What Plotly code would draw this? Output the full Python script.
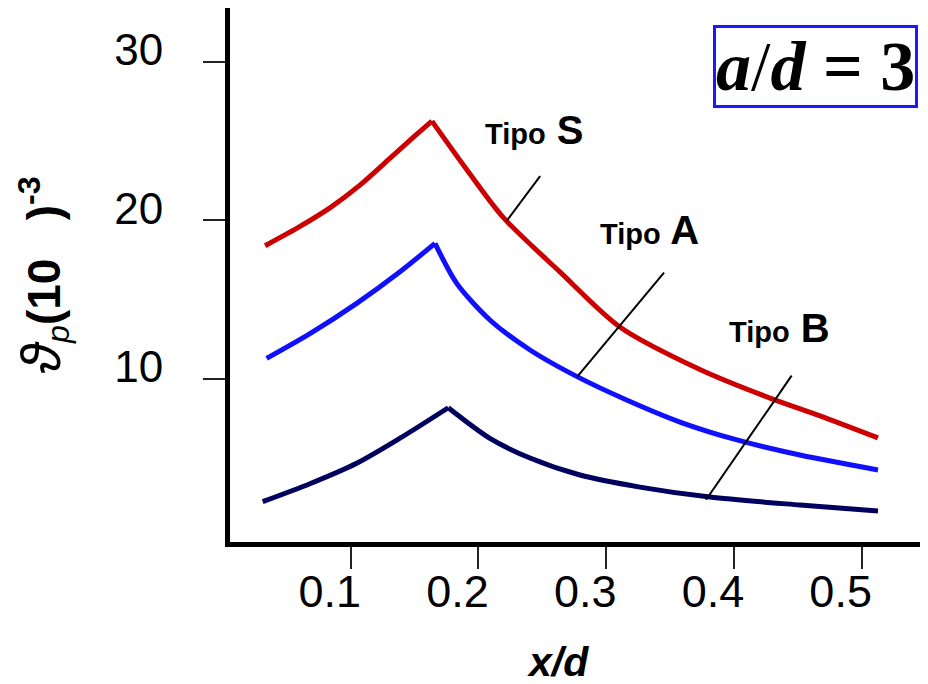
import plotly.graph_objects as go

# ---- data ----
x_s = [0.033, 0.060, 0.084, 0.107, 0.130, 0.150, 0.1636, 0.1908, 0.2192, 0.2638, 0.3107, 0.3734, 0.4282, 0.4674, 0.5128]
y_s = [18.4, 19.6, 20.8, 22.2, 23.85, 25.3, 26.25, 23.2, 20.2, 16.75, 13.28, 10.6, 8.8, 7.68, 6.29]

x_a = [0.0342, 0.0681, 0.1047, 0.1386, 0.166, 0.183, 0.209, 0.2404, 0.278, 0.316, 0.3578, 0.4024, 0.4517, 0.5128]
y_a = [11.30, 12.86, 14.77, 16.76, 18.55, 16.03, 13.72, 11.83, 10.12, 8.68, 7.29, 6.16, 5.21, 4.27]

x_b = [0.0311, 0.0681, 0.1047, 0.1386, 0.1764, 0.209, 0.2404, 0.2795, 0.3264, 0.3812, 0.4517, 0.5128]
y_b = [2.27, 3.40, 4.69, 6.27, 8.19, 6.26, 5.02, 3.95, 3.19, 2.56, 2.06, 1.68]

# leader lines (from curve to label)
lead_s_x = [0.2222, 0.2483]
lead_s_y = [19.97, 22.79]
lead_a_x = [0.2774, 0.3453]
lead_a_y = [10.15, 16.70]
lead_b_x = [0.3782, 0.4452]
lead_b_y = [2.39, 10.21]

label_names = ["S", "A", "B"]
label_x = [0.2435, 0.3343, 0.4354]
label_y = [25.7, 19.4, 13.2]

x_ticks = [0.1, 0.2, 0.3, 0.4, 0.5]
x_tick_text = ["0.1", "0.2", "0.3", "0.4", "0.5"]
y_ticks = [10, 20, 30]
y_tick_text = ["10", "20", "30"]

fig = go.Figure()
for xs, ys, col in [(x_s, y_s, "#cc0000"), (x_a, y_a, "#1010ff"), (x_b, y_b, "#00005e")]:
    k = ys.index(max(ys))
    for part_x, part_y in [(xs[:k + 1], ys[:k + 1]), (xs[k:], ys[k:])]:
        fig.add_trace(go.Scatter(x=part_x, y=part_y, mode="lines",
                                 line=dict(color=col, width=5, shape="spline", smoothing=0.8),
                                 showlegend=False, hoverinfo="skip"))
for xs, ys in [(lead_s_x, lead_s_y), (lead_a_x, lead_a_y), (lead_b_x, lead_b_y)]:
    fig.add_trace(go.Scatter(x=xs, y=ys, mode="lines",
                             line=dict(color="black", width=2), showlegend=False,
                             hoverinfo="skip"))

for name, lx, ly in zip(label_names, label_x, label_y):
    fig.add_annotation(x=lx, y=ly, xref="x", yref="y", showarrow=False,
                       xanchor="center", yanchor="middle",
                       text=f"<b><span style='font-size:29px'>Tipo</span> {name}</b>",
                       font=dict(family="Liberation Sans, Arial", size=40, color="black"))

fig.add_annotation(x=0.830, y=0.8904, xref="paper", yref="paper", showarrow=False,
                   xanchor="center", yanchor="middle",
                   text="<b><i>a</i></b>/<b><i>d</i> = 3</b>",
                   font=dict(family="Liberation Serif, Times New Roman", size=70, color="black"),
                   bordercolor="#1a1aff", borderwidth=3, borderpad=0, bgcolor="white")

fig.add_annotation(x=0.4646, y=-0.2247, xref="paper", yref="paper", showarrow=False,
                   xanchor="center", yanchor="middle",
                   text="<b><i>x/d</i></b>",
                   font=dict(family="Liberation Sans, Arial", size=41, color="black"))

fig.update_layout(
    width=928, height=684,
    margin=dict(l=222, r=0, t=0, b=150),
    plot_bgcolor="white", paper_bgcolor="white",
)
fig.update_xaxes(range=[0.00552, 0.5582], tickvals=x_ticks, ticktext=x_tick_text,
                 showgrid=False, zeroline=False, showline=True, linecolor="black", linewidth=5,
                 ticks="outside", ticklen=22, tickwidth=2, tickcolor="#222",
                 ticklabelstandoff=-16, ticklabelshift=-21,
                 tickfont=dict(family="Liberation Sans, Arial", size=45, color="black"))
fig.update_yaxes(range=[-0.27, 33.38], tickvals=y_ticks, ticktext=y_tick_text,
                 showgrid=False, zeroline=False, showline=True, linecolor="black", linewidth=5,
                 ticks="outside", ticklen=22, tickwidth=2, tickcolor="#222",
                 ticklabelstandoff=31, ticklabelshift=-12,
                 tickfont=dict(family="Liberation Sans, Arial", size=44, color="black"),
                 title=dict(text="<span style='font-size:56px'><i>ϑ</i></span><sub><i>p</i></sub>"
                                 "<b>(10&nbsp;&nbsp;&nbsp;)</b><sup><b>-3</b></sup>",
                            font=dict(family="Liberation Sans, Arial", size=46, color="black"),
                            standoff=41))

fig.write_html("out.html")
